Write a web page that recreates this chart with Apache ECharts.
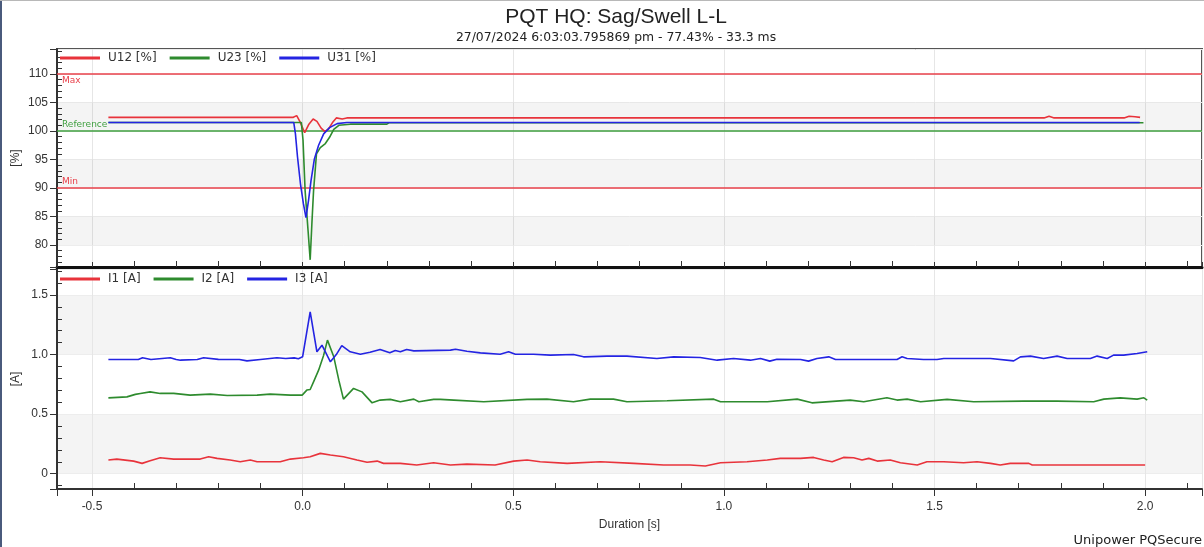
<!DOCTYPE html>
<html>
<head>
<meta charset="utf-8">
<title>PQT HQ: Sag/Swell L-L</title>
<script src="https://cdn.jsdelivr.net/npm/echarts@6/dist/echarts.min.js"></script>
<style>
  html, body { margin: 0; padding: 0; background: #fff; }
  #chart { width: 1204px; height: 547px; }
</style>
</head>
<body>
<div id="chart"></div>
<script>
var chartDom = document.getElementById('chart');
var myChart = echarts.init(chartDom);
var option;

// top panel: line-line voltage, [duration s, %]
var u12 = [
  [-0.461, 102.4], [-0.022, 102.4], [-0.014, 102.7], [-0.006, 101.6], [0.005, 99.7], [0.015, 101.2],
  [0.025, 102.1], [0.034, 101.7], [0.044, 100.5], [0.053, 99.9], [0.062, 100.4], [0.072, 101.6],
  [0.08, 102.3], [0.094, 102.1], [0.105, 102.3], [1.76, 102.3], [1.772, 102.6], [1.784, 102.3],
  [1.95, 102.3], [1.962, 102.6], [1.976, 102.5], [1.988, 102.4]
];
var u23 = [
  [-0.461, 101.5], [-0.003, 101.5], [0.001, 98.4], [0.006, 89.5], [0.013, 82.5], [0.018, 77.4],
  [0.022, 83.7], [0.026, 89.5], [0.033, 96.0], [0.042, 97.1], [0.054, 97.8], [0.064, 98.9],
  [0.074, 100.3], [0.086, 101.0], [0.113, 101.2], [0.2, 101.2], [0.205, 101.45], [1.996, 101.45]
];
var u31 = [
  [-0.461, 101.5], [-0.021, 101.5], [-0.017, 99.5], [-0.012, 95.4], [-0.005, 90.7], [0.002, 87.2],
  [0.008, 84.8], [0.014, 87.8], [0.02, 91.3], [0.028, 95.1], [0.038, 97.5], [0.05, 99.5],
  [0.064, 100.6], [0.082, 101.3], [0.105, 101.5], [1.987, 101.5]
];

// bottom panel: phase current, [duration s, A]
var i1 = [
  [-0.461, 0.115], [-0.441, 0.123], [-0.401, 0.106], [-0.381, 0.087], [-0.362, 0.109], [-0.338, 0.134],
  [-0.306, 0.123], [-0.243, 0.123], [-0.223, 0.143], [-0.203, 0.129], [-0.172, 0.115], [-0.148, 0.101],
  [-0.124, 0.115], [-0.108, 0.101], [-0.053, 0.101], [-0.029, 0.123], [0.002, 0.134], [0.018, 0.143],
  [0.042, 0.171], [0.066, 0.157], [0.097, 0.143], [0.129, 0.115], [0.153, 0.096], [0.177, 0.106],
  [0.192, 0.087], [0.232, 0.087], [0.271, 0.073], [0.311, 0.092], [0.351, 0.073], [0.39, 0.081],
  [0.457, 0.073], [0.501, 0.106], [0.533, 0.115], [0.564, 0.101], [0.628, 0.087], [0.707, 0.101],
  [0.786, 0.087], [0.857, 0.073], [0.92, 0.073], [0.956, 0.065], [0.992, 0.092], [1.055, 0.101],
  [1.103, 0.115], [1.134, 0.129], [1.182, 0.129], [1.213, 0.137], [1.237, 0.115], [1.257, 0.101],
  [1.284, 0.137], [1.308, 0.134], [1.328, 0.115], [1.344, 0.129], [1.364, 0.106], [1.395, 0.115],
  [1.419, 0.092], [1.459, 0.073], [1.482, 0.101], [1.522, 0.101], [1.569, 0.092], [1.601, 0.101],
  [1.633, 0.087], [1.656, 0.073], [1.68, 0.087], [1.724, 0.087], [1.732, 0.073], [2.0, 0.073]
];
var i2 = [
  [-0.461, 0.637], [-0.417, 0.645], [-0.397, 0.666], [-0.385, 0.674], [-0.362, 0.687], [-0.338, 0.674],
  [-0.306, 0.674], [-0.267, 0.66], [-0.219, 0.668], [-0.179, 0.657], [-0.108, 0.66], [-0.077, 0.668],
  [-0.029, 0.66], [-0.001, 0.66], [0.01, 0.702], [0.018, 0.707], [0.026, 0.771], [0.038, 0.869],
  [0.05, 0.995], [0.059, 1.121], [0.074, 0.981], [0.086, 0.785], [0.097, 0.626], [0.121, 0.716],
  [0.141, 0.687], [0.165, 0.595], [0.184, 0.618], [0.208, 0.624], [0.232, 0.604], [0.264, 0.626],
  [0.276, 0.604], [0.311, 0.624], [0.327, 0.624], [0.359, 0.618], [0.43, 0.604], [0.533, 0.624],
  [0.58, 0.626], [0.643, 0.604], [0.683, 0.626], [0.738, 0.626], [0.77, 0.604], [0.865, 0.612],
  [0.976, 0.626], [0.992, 0.604], [1.103, 0.604], [1.174, 0.626], [1.209, 0.595], [1.3, 0.618],
  [1.332, 0.604], [1.387, 0.637], [1.411, 0.618], [1.435, 0.626], [1.467, 0.604], [1.53, 0.624],
  [1.593, 0.604], [1.712, 0.609], [1.791, 0.609], [1.878, 0.604], [1.902, 0.626], [1.941, 0.637],
  [1.981, 0.626], [1.997, 0.637], [2.005, 0.618]
];
var i3 = [
  [-0.461, 0.959], [-0.39, 0.959], [-0.38, 0.973], [-0.36, 0.959], [-0.314, 0.973], [-0.3, 0.959],
  [-0.29, 0.953], [-0.25, 0.959], [-0.235, 0.973], [-0.2, 0.96], [-0.15, 0.959], [-0.132, 0.947],
  [-0.1, 0.959], [-0.061, 0.973], [-0.04, 0.967], [-0.02, 0.972], [-0.01, 0.965], [0.0, 0.981],
  [0.018, 1.358], [0.034, 1.023], [0.046, 1.079], [0.066, 0.939], [0.08, 1.0], [0.093, 1.075],
  [0.113, 1.023], [0.137, 1.003], [0.16, 1.02], [0.184, 1.043], [0.207, 1.015], [0.22, 1.035],
  [0.232, 1.023], [0.247, 1.043], [0.264, 1.031], [0.351, 1.037], [0.363, 1.045], [0.39, 1.028],
  [0.422, 1.014], [0.469, 1.003], [0.489, 1.023], [0.505, 1.003], [0.548, 1.003], [0.588, 0.995],
  [0.643, 1.001], [0.667, 0.981], [0.723, 0.987], [0.77, 0.987], [0.841, 0.967], [0.881, 0.981],
  [0.944, 0.976], [0.984, 0.953], [1.023, 0.967], [1.063, 0.953], [1.087, 0.967], [1.109, 0.945],
  [1.126, 0.961], [1.182, 0.959], [1.201, 0.945], [1.221, 0.967], [1.249, 0.981], [1.265, 0.959],
  [1.411, 0.959], [1.423, 0.981], [1.435, 0.967], [1.474, 0.959], [1.506, 0.959], [1.522, 0.967],
  [1.633, 0.967], [1.688, 0.947], [1.704, 0.981], [1.728, 0.987], [1.759, 0.967], [1.791, 0.987],
  [1.815, 0.967], [1.87, 0.967], [1.886, 0.987], [1.91, 0.967], [1.925, 0.995], [1.949, 0.995],
  [1.981, 1.009], [2.005, 1.023]
];

var voltNames = ['U12 [%]', 'U23 [%]', 'U31 [%]'];
var currNames = ['I1 [A]', 'I2 [A]', 'I3 [A]'];
var limitNames = ['Max', 'Reference', 'Min'];
var limitValues = [110, 100, 90];
// shaded value bands of the voltage panel
var voltBands = [[80, 85], [90, 95], [100, 105]];

var lineColors = ['#e8333b', '#2e8b2e', '#2424e2'];
var limitColors = ['#e8404a', '#3f9f3f', '#e8404a'];
var FONT = '"Liberation Sans", Arial, sans-serif';
var WIDE = '"DejaVu Sans", Verdana, sans-serif';

// axis ranges
var xMin = -0.583, xMax = 2.135;
var vMin = 76.14, vMax = 114.39;
var aMin = -0.128, aMax = 1.718;

function onStep(v, step) {
  var k = v / step;
  return Math.abs(k - Math.round(k)) < 1e-6;
}

function mainX(grid, showLabel) {
  return {
    type: 'value', gridIndex: grid, position: 'bottom', min: xMin, max: xMax, splitNumber: 5,
    axisLine: { onZero: false, lineStyle: { color: showLabel ? '#333' : '#111', width: showLabel ? 2 : 3 } },
    axisTick: { show: true, inside: !showLabel, length: showLabel ? 7 : 5, lineStyle: { color: '#333' } },
    minorTick: { show: !showLabel, splitNumber: 5, length: 4, lineStyle: { color: '#333' } },
    axisLabel: {
      show: showLabel, margin: 12, color: '#333', fontSize: 12, fontFamily: FONT,
      formatter: function (v) { return onStep(v, 0.5) ? v.toFixed(1) : ''; }
    },
    splitLine: { show: true, lineStyle: { color: '#e6e6e6' } },
    name: showLabel ? 'Duration [s]' : '',
    nameLocation: 'middle', nameGap: 30, nameMoveOverlap: false,
    nameTextStyle: { color: '#333', fontSize: 12, fontFamily: FONT }
  };
}

// second axis only for the inward pointing minor ticks
function minorX(grid) {
  return {
    type: 'value', gridIndex: grid, position: 'bottom', min: xMin, max: xMax, splitNumber: 5,
    axisLine: { show: false, onZero: false },
    axisTick: { show: false, inside: true },
    minorTick: { show: true, splitNumber: 5, length: 6, lineStyle: { color: '#333' } },
    axisLabel: { show: false },
    splitLine: { show: false }
  };
}

function mainY(grid, min, max, split, step, name, fmt, shade) {
  return {
    type: 'value', gridIndex: grid, position: 'left', min: min, max: max, splitNumber: split,
    axisLine: { show: true, onZero: false, lineStyle: { color: '#333', width: 2 } },
    axisTick: { show: true, length: 7, lineStyle: { color: '#333' } },
    axisLabel: {
      margin: 9, color: '#333', fontSize: 12, fontFamily: FONT,
      formatter: function (v) { return onStep(v, step) ? fmt(v) : ''; }
    },
    splitLine: { show: true, lineStyle: { color: '#ededed' } },
    splitArea: { show: shade, areaStyle: { color: ['#ffffff', '#f4f4f4'] } },
    name: name, nameLocation: 'middle', nameGap: 35, nameRotate: 90, nameMoveOverlap: false,
    nameTextStyle: { color: '#333', fontSize: 12, fontFamily: FONT }
  };
}

function minorY(grid, min, max, split) {
  return {
    type: 'value', gridIndex: grid, position: 'left', min: min, max: max, splitNumber: split,
    axisLine: { show: false, onZero: false },
    axisTick: { show: false, inside: true },
    minorTick: { show: true, splitNumber: 5, length: 5, lineStyle: { color: '#333' } },
    axisLabel: { show: false },
    splitLine: { show: false }
  };
}

function lineSeries(name, data, color, axis) {
  return {
    name: name, type: 'line', data: data, xAxisIndex: axis, yAxisIndex: axis,
    symbol: 'none', smooth: false, animation: false,
    lineStyle: { color: color, width: 1.6 },
    itemStyle: { color: color },
    z: 3
  };
}

var limitLines = limitNames.map(function (n, i) {
  return {
    name: n, yAxis: limitValues[i],
    lineStyle: { color: limitColors[i], width: 1.6, type: 'solid' },
    label: {
      show: true, formatter: '{b}', color: limitColors[i], fontSize: 9, fontFamily: WIDE,
      position: i === 0 ? 'insideStartBottom' : 'insideStartTop', distance: [5, 2]
    }
  };
});

var series = [
  lineSeries(voltNames[0], u12, lineColors[0], 0),
  lineSeries(voltNames[1], u23, lineColors[1], 0),
  lineSeries(voltNames[2], u31, lineColors[2], 0),
  lineSeries(currNames[0], i1, lineColors[0], 2),
  lineSeries(currNames[1], i2, lineColors[1], 2),
  lineSeries(currNames[2], i3, lineColors[2], 2)
];
series[0].markLine = { silent: true, symbol: 'none', animation: false, z: 2, data: limitLines };
series[1].markArea = {
  silent: true, animation: false,
  itemStyle: { color: 'rgba(0,0,0,0.045)' },
  data: voltBands.map(function (b) { return [{ yAxis: b[0] }, { yAxis: b[1] }]; })
};

function legendFor(names, top) {
  return {
    data: names, left: 60, top: top, orient: 'horizontal',
    icon: 'rect', itemWidth: 40, itemHeight: 3, itemGap: 13, padding: 0,
    selectedMode: false,
    textStyle: { color: '#333', fontSize: 12, fontFamily: WIDE, padding: [0, 0, 0, 3] }
  };
}

option = {
  backgroundColor: '#ffffff',
  animation: false,
  title: {
    text: 'PQT HQ: Sag/Swell L-L',
    subtext: '27/07/2024 6:03:03.795869 pm - 77.43% - 33.3 ms',
    left: 616, top: 7, textAlign: 'center', itemGap: 4, padding: 0,
    textStyle: { color: '#222', fontSize: 21, fontWeight: 'normal', fontFamily: FONT },
    subtextStyle: { color: '#222', fontSize: 12.4, fontFamily: WIDE }
  },
  legend: [legendFor(voltNames, 52), legendFor(currNames, 273)],
  grid: [
    { left: 57, right: 2, top: 49, height: 218, show: true, borderColor: '#555', borderWidth: 2,
      backgroundColor: 'transparent', outerBoundsMode: 'none', containLabel: false },
    { left: 57, right: 2, top: 269, height: 220, show: true, borderColor: '#555', borderWidth: 2,
      backgroundColor: 'transparent', outerBoundsMode: 'none', containLabel: false }
  ],
  xAxis: [mainX(0, false), minorX(0), mainX(1, true), minorX(1)],
  yAxis: [
    mainY(0, vMin, vMax, 7, 5, '[%]', function (v) { return String(v); }, false),
    minorY(0, vMin, vMax, 7),
    mainY(1, aMin, aMax, 4, 0.5, '[A]', function (v) { return v === 0 ? '0' : v.toFixed(1); }, true),
    minorY(1, aMin, aMax, 4)
  ],
  graphic: [
    { type: 'rect', left: 0, top: 0, shape: { width: 2, height: 547 }, style: { fill: '#4a5a7c' }, silent: true },
    { type: 'rect', left: 0, top: 0, shape: { width: 1204, height: 1 }, style: { fill: '#b8b8b8' }, silent: true },
    {
      type: 'text', right: 2, top: 534, silent: true,
      style: { text: 'Unipower PQSecure', fill: '#222', font: '13px ' + WIDE }
    }
  ],
  series: series
};

option && myChart.setOption(option);
</script>
</body>
</html>
